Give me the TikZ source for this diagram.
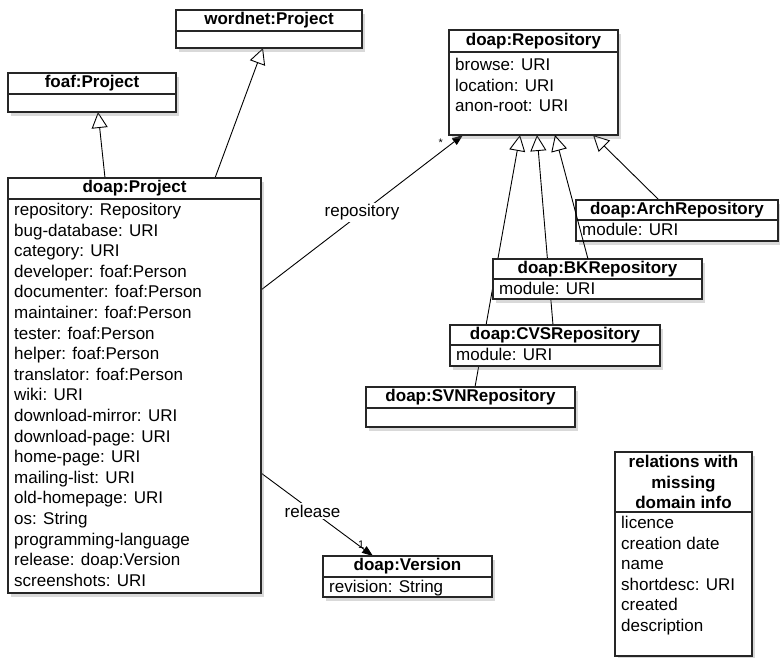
\documentclass[tikz,border=0pt]{standalone}
\usepackage{fontspec}
\setmainfont{Liberation Sans}
\usetikzlibrary{%
  arrows.meta,%
  positioning,% wg. " of "
  shadows,%
  backgrounds%
}

\begin{document}
\begin{tikzpicture}[
  x=1pt, y=-1pt,
  font=\fontsize{17}{20.6}\selectfont,
  >={Triangle[length=11pt,width=8pt]},
  umlshadow/.style={drop shadow={opacity=0.3,shadow xshift=3pt,shadow yshift=-4pt}},
  classhead/.style={draw=black!85, line width=1.3pt, fill=white, outer sep=0pt,
    inner sep=0pt, anchor=north west, font=\fontsize{17}{20.6}\selectfont\bfseries, umlshadow},
  classbody/.style={draw=black!85, line width=1.3pt, fill=white, outer sep=0pt,
    inner sep=0pt, umlshadow},
  attr/.style={anchor=north west, align=left, inner xsep=6pt, inner ysep=4pt},
  gen/.style={line width=0.9pt, -{Triangle[open,length=16pt,width=16pt]}},
  assoc/.style={line width=0.9pt, ->},
  lbl/.style={fill=white, inner sep=2pt},
  mult/.style={font=\fontsize{11}{13}\selectfont, inner sep=1pt},
]
\useasboundingbox (0,0) rectangle (780,658);

% super classes
\node[classhead, minimum width=186, minimum height=21] (wordnet) at (176,10) {wordnet:Project};
\node[classbody, minimum width=186, minimum height=17, below=0pt of wordnet] (wordnet-b) {};

\node[classhead, minimum width=168, minimum height=21] (foaf) at (8,73) {foaf:Project};
\node[classbody, minimum width=168, minimum height=18, below=0pt of foaf] (foaf-b) {};

% the project
\node[classhead, minimum width=253, minimum height=21] (project) at (8,178) {doap:Project};
\node[classbody, minimum width=253, minimum height=394, below=0pt of project] (project-b) {};
\node[attr] (project-a) at (project-b.north west) {%
  repository: Repository\\
  bug-database: URI\\
  category: URI\\
  developer: foaf:Person\\
  documenter: foaf:Person\\
  maintainer: foaf:Person\\
  tester: foaf:Person\\
  helper: foaf:Person\\
  translator: foaf:Person\\
  wiki: URI\\
  download-mirror: URI\\
  download-page: URI\\
  home-page: URI\\
  mailing-list: URI\\
  old-homepage: URI\\
  os: String\\
  programming-language\\
  release: doap:Version\\
  screenshots: URI};

% repositories
\node[classhead, minimum width=169, minimum height=22] (repo) at (449,30) {doap:Repository};
\node[classbody, minimum width=169, minimum height=83, below=0pt of repo] (repo-b) {};
\node[attr, inner ysep=6pt] (repo-a) at (repo-b.north west) {browse: URI\\location: URI\\anon-root: URI};

\node[classhead, minimum width=202, minimum height=20] (arch) at (576,200) {doap:ArchRepository};
\node[classbody, minimum width=202, minimum height=21, below=0pt of arch] (arch-b) {};
\node[attr, inner ysep=3pt] (arch-a) at (arch-b.north west) {module: URI};

\node[classhead, minimum width=209, minimum height=20] (bk) at (493,259) {doap:BKRepository};
\node[classbody, minimum width=209, minimum height=20, below=0pt of bk] (bk-b) {};
\node[attr, inner ysep=3pt] (bk-a) at (bk-b.north west) {module: URI};

\node[classhead, minimum width=210, minimum height=20] (cvs) at (450,325) {doap:CVSRepository};
\node[classbody, minimum width=210, minimum height=21, below=0pt of cvs] (cvs-b) {};
\node[attr, inner ysep=3pt] (cvs-a) at (cvs-b.north west) {module: URI};

\node[classhead, minimum width=209, minimum height=21] (svn) at (366,387) {doap:SVNRepository};
\node[classbody, minimum width=209, minimum height=19, below=0pt of svn] (svn-b) {};

% version
\node[classhead, minimum width=169, minimum height=21] (version) at (323,556) {doap:Version};
\node[classbody, minimum width=169, minimum height=20, below=0pt of version] (version-b) {};
\node[attr, inner ysep=3pt] (version-a) at (version-b.north west) {revision: String};

% no domain
\node[classhead, minimum width=137, minimum height=60, align=center] (nodomain) at (615,452)
  {relations with\\missing\\domain info};
\node[classbody, minimum width=137, minimum height=144, below=0pt of nodomain] (nodomain-b) {};
\node[attr] (nodomain-a) at (nodomain-b.north west) {%
  licence\\
  creation date\\
  name\\
  shortdesc: URI\\
  created\\
  description};

\begin{scope}[on background layer]
\draw[gen] ([xshift=97pt]project.north west) -- ([xshift=90pt]foaf-b.south west);
\draw[gen] ([xshift=207pt]project.north west) -- ([xshift=87pt]wordnet-b.south west);

\draw[gen] ([xshift=109pt]svn.north west) -- ([xshift=71pt]repo-b.south west);
\draw[gen] ([xshift=103pt]cvs.north west) -- ([xshift=88pt]repo-b.south west);
\draw[gen] ([xshift=83pt]arch.north west) -- ([xshift=144pt]repo-b.south west);

\draw[assoc] ([yshift=-91pt]project-b.north east) --
  node[lbl] {repository}
  node[mult, pos=0.89, above=4pt] {*}
  ([xshift=14pt]repo-b.south west);
\draw[assoc] ([yshift=-274pt]project-b.north east) --
  node[lbl, pos=0.46] {release}
  node[mult, pos=0.94, above left=1pt] {1}
  ([xshift=50pt]version.north west);
\end{scope}

% runs over the arch box
\draw[gen] ([xshift=95pt]bk.north west) -- ([xshift=106pt]repo-b.south west);

\end{tikzpicture}
\end{document}
